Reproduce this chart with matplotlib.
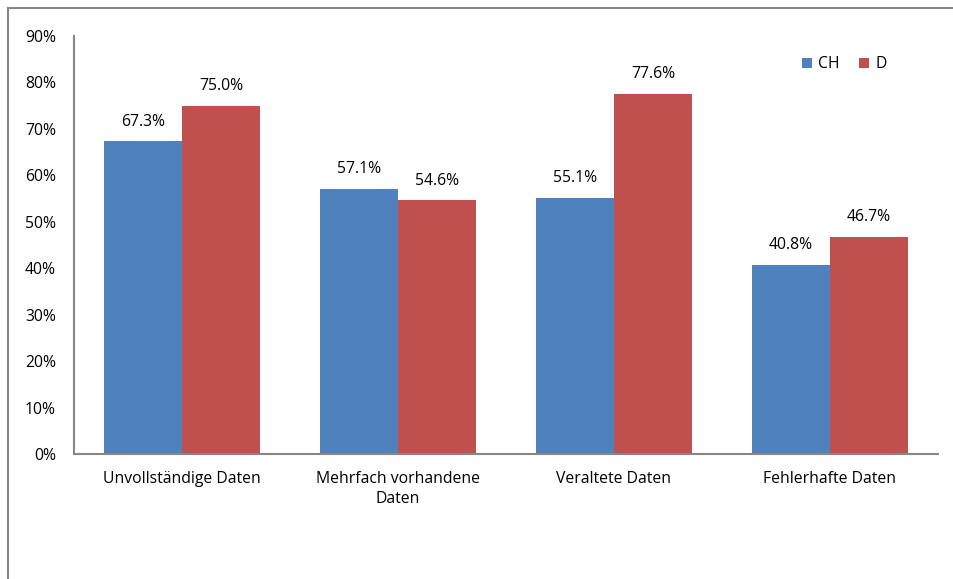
import matplotlib.pyplot as plt
from matplotlib.lines import Line2D
import numpy as np

plt.rcParams['font.family'] = ['Open Sans', 'DejaVu Sans']

categories = ['Unvollständige Daten', 'Mehrfach vorhandene\nDaten',
              'Veraltete Daten', 'Fehlerhafte Daten']
ch = [67.3, 57.1, 55.1, 40.8]
d = [75.0, 54.6, 77.6, 46.7]
yticks = [0, 10, 20, 30, 40, 50, 60, 70, 80, 90]

blue = '#4F81BD'
red = '#C0504D'
gray = '#868686'
fs = 11.3

fig = plt.figure(figsize=(9.54, 5.79), dpi=100)
ax = fig.add_axes([0.0776, 0.2159, 0.9054, 0.7219])

x = np.arange(len(categories))
w = 0.361
b1 = ax.bar(x - w / 2, ch, w, color=blue, label='CH')
b2 = ax.bar(x + w / 2, d, w, color=red, label='D')

for bars, vals in ((b1, ch), (b2, d)):
    for r, v in zip(bars, vals):
        ax.annotate(f'{v:.1f}%', (r.get_x() + r.get_width() / 2, v),
                    xytext=(0, 8.5), textcoords='offset points',
                    ha='center', va='bottom', fontsize=fs, color='#000000')

ax.set_xlim(-0.5, 3.5)
ax.set_ylim(0, 90)
ax.set_yticks(yticks)
ax.set_yticklabels([f'{t}%' for t in yticks])
ax.set_xticks(x)
ax.set_xticklabels(categories, linespacing=1.35)
ax.tick_params(axis='both', length=0, labelsize=fs, colors='#000000')
ax.tick_params(axis='y', pad=13)
ax.tick_params(axis='x', pad=12)
for s in ('top', 'right'):
    ax.spines[s].set_visible(False)
for s in ('left', 'bottom'):
    ax.spines[s].set_color(gray)
    ax.spines[s].set_linewidth(1.5)

ax.legend(loc='upper right', bbox_to_anchor=(0.957, 0.985), ncol=2, frameon=False,
          handlelength=0.65, handleheight=0.65, columnspacing=1.2,
          handletextpad=0.4, fontsize=fs)

# outer chart border (left and top)
fig.add_artist(Line2D([0.0089, 0.0089], [0, 0.986], transform=fig.transFigure,
                      color=gray, lw=1.5))
fig.add_artist(Line2D([0.0089, 1], [0.986, 0.986], transform=fig.transFigure,
                      color=gray, lw=1.5))

fig.savefig('out.png', dpi=100)
